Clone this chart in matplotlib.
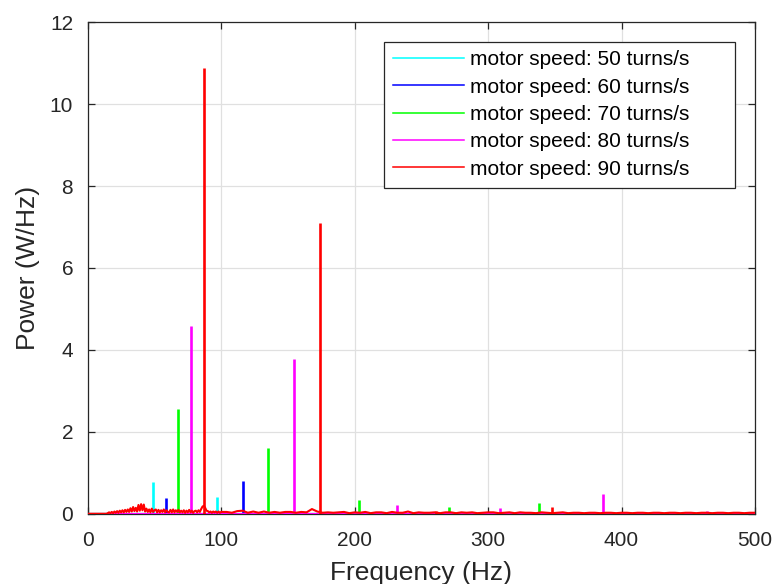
import numpy as np
import matplotlib
matplotlib.use("Agg")
import matplotlib.pyplot as plt

plt.rcParams['font.family'] = ['Liberation Sans', 'DejaVu Sans']

# ---------------- data ----------------
labels = ["motor speed: 50 turns/s", "motor speed: 60 turns/s",
          "motor speed: 70 turns/s", "motor speed: 80 turns/s",
          "motor speed: 90 turns/s"]
colors = ["#00ffff", "#0000ff", "#00ff00", "#ff00ff", "#ff0000"]

# spectral peaks (Hz, W/Hz) per motor speed
peaks_50_f = [48.7, 97.2, 295.0]
peaks_50_p = [0.78, 0.42, 0.02]
peaks_60_f = [58.4, 116.6, 350.4]
peaks_60_p = [0.40, 0.81, 0.02]
peaks_70_f = [67.4, 135.2, 203.0, 270.4, 338.3, 406.0, 473.6]
peaks_70_p = [2.57, 1.60, 0.33, 0.18, 0.27, 0.05, 0.05]
peaks_80_f = [77.2, 154.5, 231.5, 308.8, 386.2, 463.7]
peaks_80_p = [4.59, 3.79, 0.23, 0.15, 0.48, 0.08]
peaks_90_f = [87.1, 174.0, 260.7, 347.6, 434.4]
peaks_90_p = [10.88, 7.09, 0.08, 0.18, 0.04]

# background noise floor (Hz, W/Hz)
floor_low_f = [0, 500]
floor_low_p = [0.005, 0.005]

noise_90_f = list(range(0, 101)) + list(range(104, 501, 4))
noise_90_p = ([0.005] * 15 +
              [0.02, 0.04, 0.02, 0.05, 0.02, 0.06,
               0.03, 0.07, 0.03, 0.08, 0.04, 0.09, 0.04, 0.10, 0.05, 0.11,
               0.05, 0.14, 0.06, 0.17, 0.07, 0.15, 0.06, 0.22, 0.08, 0.24,
               0.09, 0.23, 0.06, 0.13, 0.05, 0.11, 0.04, 0.13, 0.05, 0.09,
               0.11, 0.04, 0.10, 0.04, 0.09, 0.05, 0.11, 0.04, 0.09, 0.05,
               0.04, 0.10, 0.04, 0.11, 0.04, 0.09, 0.05, 0.10, 0.04, 0.08,
               0.04, 0.09, 0.03, 0.08, 0.04, 0.10, 0.04, 0.08, 0.03, 0.07,
               0.08, 0.04, 0.09, 0.05, 0.12, 0.18, 0.20, 0.15, 0.08, 0.07,
               0.04, 0.06, 0.03, 0.06, 0.04, 0.06, 0.03, 0.06, 0.03, 0.05] +
              [0.05, 0.03, 0.07, 0.08, 0.03, 0.06, 0.03, 0.06, 0.03, 0.05,
               0.03, 0.05, 0.05, 0.03, 0.05, 0.04, 0.12, 0.06, 0.03, 0.04,
               0.03, 0.04, 0.05, 0.02, 0.04, 0.03, 0.05, 0.02, 0.04, 0.04,
               0.02, 0.05, 0.03, 0.03, 0.06, 0.02, 0.04, 0.03, 0.03, 0.04,
               0.02, 0.04, 0.04, 0.02, 0.04, 0.03, 0.04, 0.02, 0.03, 0.04,
               0.04, 0.02, 0.03, 0.04, 0.02, 0.04, 0.03, 0.03, 0.02, 0.04,
               0.03, 0.02, 0.03, 0.04, 0.02, 0.03, 0.03, 0.02, 0.03, 0.03,
               0.02, 0.03, 0.03, 0.02, 0.03, 0.03, 0.02, 0.03, 0.03, 0.02,
               0.03, 0.03, 0.02, 0.03, 0.03, 0.02, 0.03, 0.03, 0.02, 0.03,
               0.03, 0.02, 0.03, 0.03, 0.02, 0.03, 0.03, 0.02, 0.03, 0.03])

xticks = [0, 100, 200, 300, 400, 500]
yticks = [0, 2, 4, 6, 8, 10, 12]

series = [
    (floor_low_f, floor_low_p, peaks_50_f, peaks_50_p),
    (floor_low_f, floor_low_p, peaks_60_f, peaks_60_p),
    (floor_low_f, floor_low_p, peaks_70_f, peaks_70_p),
    (floor_low_f, floor_low_p, peaks_80_f, peaks_80_p),
    (noise_90_f, noise_90_p, peaks_90_f, peaks_90_p),
]

# ---------------- plot ----------------
fig = plt.figure(figsize=(7.73, 5.84), dpi=100)
ax = fig.add_axes([0.1135, 0.1199, 0.8632, 0.8424])

dark = "#262626"
for (nf, npw, pf, pp), lab, col in zip(series, labels, colors):
    ax.plot(nf, npw, color=col, lw=1.5, label=lab, zorder=3)
    ax.vlines(pf, 0, pp, color=col, lw=1.9, zorder=3)

ax.set_xlim(0, 500)
ax.set_ylim(0, 12)
ax.set_xticks(xticks)
ax.set_yticks(yticks)
ax.grid(True, color="#e0e0e0", lw=0.9)
ax.set_axisbelow(True)
for s in ax.spines.values():
    s.set_color(dark)
    s.set_linewidth(0.9)
ax.tick_params(direction="in", length=5, width=0.9, colors=dark,
               labelsize=15, top=True, right=True)
ax.tick_params(axis="x", pad=12)
ax.tick_params(axis="y", pad=10.5)
ax.set_xlabel("Frequency (Hz)", fontsize=19, color=dark, labelpad=8)
ax.set_ylabel("Power (W/Hz)", fontsize=19, color=dark, labelpad=7)

leg = ax.legend(loc="upper left", bbox_to_anchor=(0.444, 0.0, 0.526, 0.960),
                mode="expand", borderaxespad=0, fontsize=15,
                handlelength=3.4, handletextpad=0.3, labelspacing=0.4,
                borderpad=0.42, fancybox=False, framealpha=1)
leg.get_frame().set_edgecolor(dark)
leg.get_frame().set_linewidth(0.9)
for line in leg.get_lines():
    line.set_linewidth(1.1)

fig.savefig("out.png", dpi=100)
